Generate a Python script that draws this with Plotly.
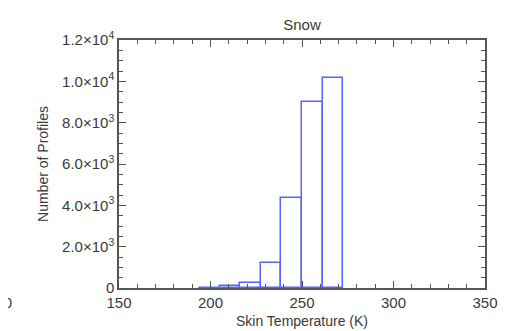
import plotly.graph_objects as go

# Histogram of skin temperature for snow profiles
bin_edges = [193.75, 205.0, 216.25, 227.5, 238.75, 250.0, 261.25, 272.5]
counts = [20, 80, 250, 1200, 4350, 9000, 10150]

y_tick_vals = [0, 2000, 4000, 6000, 8000, 10000, 12000]
y_tick_text = ["0", "2.0×10<sup>3</sup>", "4.0×10<sup>3</sup>", "6.0×10<sup>3</sup>",
               "8.0×10<sup>3</sup>", "1.0×10<sup>4</sup>", "1.2×10<sup>4</sup>"]
x_tick_vals = [150, 200, 250, 300, 350]

centers = [(a + b) / 2 for a, b in zip(bin_edges[:-1], bin_edges[1:])]
widths = [b - a for a, b in zip(bin_edges[:-1], bin_edges[1:])]

W, H = 506, 331
ML, MR, MT, MB = 111, 29, 32, 49
font = "Liberation Sans, Arial, sans-serif"
txt = "#3a3a3a"
axc = "#555555"

fig = go.Figure()
fig.add_trace(go.Bar(
    x=centers, y=counts, width=widths,
    marker=dict(color="rgba(0,0,0,0)", line=dict(color="rgb(85,100,255)", width=1.5)),
    showlegend=False,
))

fig.update_layout(
    width=W, height=H,
    margin=dict(l=ML, r=MR, t=MT, b=MB),
    paper_bgcolor="white", plot_bgcolor="white",
    font=dict(family=font, size=14, color=txt),
    title=dict(text="Snow", x=(ML + (W - MR)) / 2 / W, xanchor="center",
               y=1 - 17 / H, yanchor="middle", font=dict(size=15, color=txt)),
    bargap=0,
    xaxis=dict(
        range=[150, 350], tickvals=x_tick_vals, ticks="inside", ticklen=7,
        tickcolor=axc, tickwidth=1.2,
        showline=True, linecolor=axc, linewidth=1.5, mirror="ticks",
        showgrid=False, zeroline=False,
        minor=dict(dtick=10, ticks="inside", ticklen=4, tickcolor=axc, showgrid=False),
        title=dict(text="Skin Temperature (K)", standoff=6, font=dict(size=14)),
        tickfont=dict(size=15),
    ),
    yaxis=dict(
        range=[0, 12000], tickvals=y_tick_vals, ticktext=y_tick_text,
        ticks="inside", ticklen=7, tickcolor=axc, tickwidth=1.2,
        showline=True, linecolor=axc, linewidth=1.5, mirror="ticks",
        showgrid=False, zeroline=False,
        minor=dict(dtick=500, ticks="inside", ticklen=4, tickcolor=axc, showgrid=False),
        title=dict(text="Number of Profiles", standoff=10, font=dict(size=14)),
        tickfont=dict(size=15),
    ),
)

# clipped tick label of the neighbouring panel at the left edge
fig.add_annotation(text="350", xref="paper", yref="paper",
                   x=-(ML - 6) / (W - ML - MR), y=-(297 - (H - MB)) / (H - MT - MB),
                   xanchor="right", yanchor="middle", showarrow=False,
                   font=dict(size=15, color=txt))

fig.write_html("out.html")
